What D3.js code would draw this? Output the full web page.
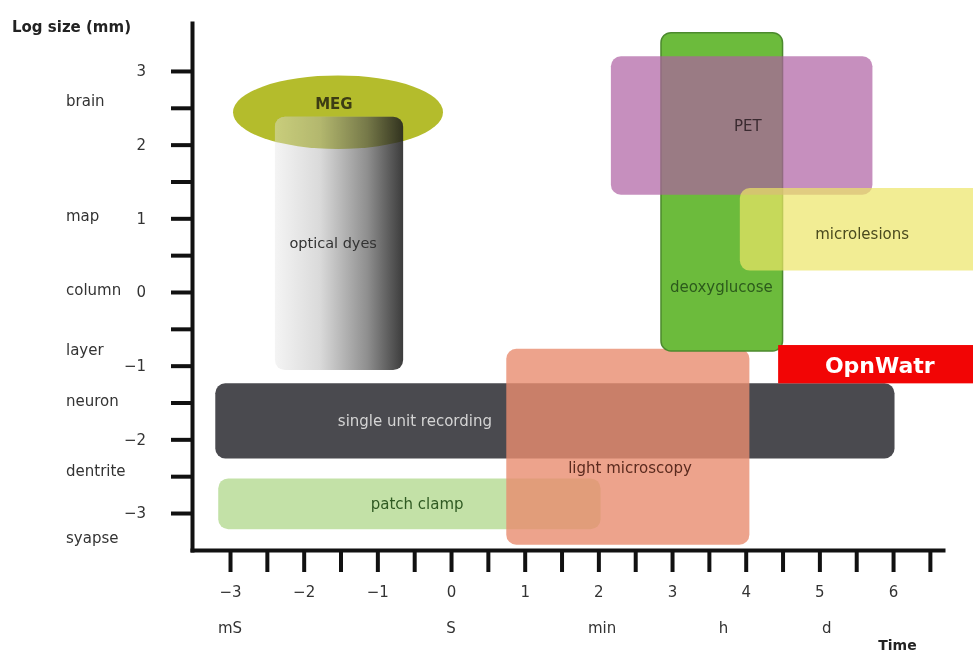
<!DOCTYPE html>
<html>
<head>
<meta charset="utf-8">
<script src="https://cdn.jsdelivr.net/npm/d3@7"></script>
<style>
  body { margin: 0; background: #fff; }
  text { font-family: 'DejaVu Sans', sans-serif; }
</style>
</head>
<body>
<svg id="chart"></svg>
<script>
// Axis ticks (log units) and labels
const xTickValues = [-3, -2.5, -2, -1.5, -1, -0.5, 0, 0.5, 1, 1.5, 2, 2.5, 3, 3.5, 4, 4.5, 5, 5.5, 6, 6.5]
const yTickValues = [-3, -2.5, -2, -1.5, -1, -0.5, 0, 0.5, 1, 1.5, 2, 2.5, 3]
const sizeLevels = ['brain', 'map', 'column', 'layer', 'neuron', 'dentrite', 'syapse']
const sizeLevelPos = [2.6, 1.04, 0.03, -0.79, -1.47, -2.42, -3.34]
const timeUnits = ['mS', 'S', 'min', 'h', 'd']
const timeUnitPos = [-3, 0, 2.05, 3.7, 5.1]

// Techniques: time range (x0, x1) and size range (y0, y1), in log units
const techniques = ['single unit recording', 'patch clamp', 'light microscopy', 'deoxyglucose', 'PET', 'microlesions']
const techX0 = [-3.2, -3.16, 0.75, 2.85, 2.17, 3.92]
const techX1 = [6.02, 2.03, 4.05, 4.5, 5.72, 7.4]
const techY0 = [-2.26, -3.22, -3.43, -0.8, 1.32, 0.29]
const techY1 = [-1.24, -2.53, -0.77, 3.52, 3.2, 1.41]
const techLabelX = [-0.49, -0.46, 2.43, 3.67, 4.03, 5.58]
const techLabelY = [-1.75, -2.88, -2.39, 0.07, 2.25, 0.79]
const techColors = ['#4a4a4f', '#c3e1a7', '#e98c6f', '#6cbb3c', '#ae60a2', '#ece666']
const techOpacity = [1, 1, 0.8, 1, 0.7, 0.7]
const techTextColors = ['#d4d4d4', '#2f5a22', '#5a2a1e', '#2c5a1c', '#3a2a30', '#4a4a1e']

// optical dyes and MEG
const dyesRange = { x0: -2.39, x1: -0.65, y0: -1.06, y1: 2.38, labelX: -1.6, labelY: 0.67 }
const megRange = { cx: -1.534, cy: 2.44, rx: 1.425, ry: 0.5, labelX: -1.59, labelY: 2.55 }

// watermark box
const badge = { x0: 4.44, x1: 7.4, y0: -1.24, y1: -0.72, labelX: 5.82, labelY: -0.99 }

const W = 973
const H = 657

const svg = d3.select('#chart')
  .attr('width', W)
  .attr('height', H)

const x = d3.scaleLinear().domain([-3.516, 6.678]).range([192, 943])
const y = d3.scaleLinear().domain([-3.502, 3.651]).range([550, 23])

const defs = svg.append('defs')
const grad = defs.append('linearGradient').attr('id', 'dyesGrad')
grad.selectAll('stop')
  .data([['0%', '#f4f4f4'], ['35%', '#dadada'], ['72%', '#8f8f8f'], ['100%', '#3c3c3c']])
  .enter().append('stop')
  .attr('offset', d => d[0])
  .attr('stop-color', d => d[1])

defs.append('clipPath').attr('id', 'dyesClip')
  .append('rect')
  .attr('x', x(dyesRange.x0)).attr('y', y(dyesRange.y1))
  .attr('width', x(dyesRange.x1) - x(dyesRange.x0))
  .attr('height', y(dyesRange.y0) - y(dyesRange.y1))
  .attr('rx', 10)

// MEG ellipse
const meg = () => svg.append('ellipse')
  .attr('cx', x(megRange.cx)).attr('cy', y(megRange.cy))
  .attr('rx', x(megRange.cx + megRange.rx) - x(megRange.cx))
  .attr('ry', y(megRange.cy - megRange.ry) - y(megRange.cy))
  .attr('fill', '#b4bc2c')
meg()

// optical dyes column
svg.append('rect')
  .attr('x', x(dyesRange.x0)).attr('y', y(dyesRange.y1))
  .attr('width', x(dyesRange.x1) - x(dyesRange.x0))
  .attr('height', y(dyesRange.y0) - y(dyesRange.y1))
  .attr('rx', 10)
  .attr('fill', 'url(#dyesGrad)')

// tint of MEG through the dyes column
meg()
  .attr('clip-path', 'url(#dyesClip)')
  .style('mix-blend-mode', 'multiply')
  .attr('opacity', 0.6)

// technique boxes
techniques.forEach((t, i) => {
  svg.append('rect')
    .attr('x', x(techX0[i]))
    .attr('y', y(techY1[i]))
    .attr('width', x(techX1[i]) - x(techX0[i]))
    .attr('height', y(techY0[i]) - y(techY1[i]))
    .attr('rx', 10)
    .attr('fill', techColors[i])
    .attr('fill-opacity', techOpacity[i])
    .attr('stroke', t === 'deoxyglucose' ? '#4c8a2e' : 'none')
    .attr('stroke-width', 1.5)
})

// watermark
svg.append('rect')
  .attr('x', x(badge.x0)).attr('y', y(badge.y1))
  .attr('width', x(badge.x1) - x(badge.x0))
  .attr('height', y(badge.y0) - y(badge.y1))
  .attr('fill', '#f20505')
svg.append('text')
  .attr('x', x(badge.labelX)).attr('y', y(badge.labelY))
  .attr('dy', '0.35em')
  .attr('text-anchor', 'middle')
  .attr('fill', '#fff')
  .style('font-size', '22px')
  .style('font-weight', 'bold')
  .text('OpnWatr')

// labels in boxes
svg.selectAll('.tech-label')
  .data(techniques)
  .enter().append('text')
  .attr('class', 'tech-label')
  .attr('x', (d, i) => x(techLabelX[i]))
  .attr('y', (d, i) => y(techLabelY[i]))
  .attr('dy', '0.35em')
  .attr('text-anchor', 'middle')
  .attr('fill', (d, i) => techTextColors[i])
  .style('font-size', '15px')
  .text(d => d)

svg.append('text')
  .attr('x', x(dyesRange.labelX)).attr('y', y(dyesRange.labelY))
  .attr('dy', '0.35em').attr('text-anchor', 'middle')
  .attr('fill', '#333').style('font-size', '14.5px')
  .text('optical dyes')

svg.append('text')
  .attr('x', x(megRange.labelX)).attr('y', y(megRange.labelY))
  .attr('dy', '0.35em').attr('text-anchor', 'middle')
  .attr('fill', '#3c3c14').style('font-size', '15px').style('font-weight', 'bold')
  .text('MEG')

// Axes
const fmt = d3.format('')
const xAxis = d3.axisBottom(x)
  .tickValues(xTickValues)
  .tickSize(22)
  .tickSizeOuter(0)
  .tickPadding(14)
  .tickFormat(d => Number.isInteger(d) ? fmt(d) : '')

const yAxis = d3.axisLeft(y)
  .tickValues(yTickValues)
  .tickSize(21)
  .tickSizeOuter(0)
  .tickPadding(25)
  .tickFormat(d => Number.isInteger(d) ? fmt(d) : '')

const gx = svg.append('g')
  .attr('transform', `translate(0, ${y(-3.502)})`)
  .call(xAxis)
const gy = svg.append('g')
  .attr('transform', `translate(${x(-3.516)}, 0)`)
  .call(yAxis)

;[gx, gy].forEach(g => {
  g.select('.domain').attr('stroke', '#111').attr('stroke-width', 4).attr('stroke-linecap', 'square')
  g.selectAll('.tick line').attr('stroke', '#111').attr('stroke-width', 4)
  g.selectAll('.tick text').attr('fill', '#333').style('font-size', '15px').style('font-family', 'DejaVu Sans, sans-serif')
})

// size level names
svg.selectAll('.size-level')
  .data(sizeLevels)
  .enter().append('text')
  .attr('class', 'size-level')
  .attr('x', 66)
  .attr('y', (d, i) => y(sizeLevelPos[i]))
  .attr('dy', '0.35em')
  .attr('fill', '#333')
  .style('font-size', '15px')
  .text(d => d)

// time unit names
svg.selectAll('.time-unit')
  .data(timeUnits)
  .enter().append('text')
  .attr('class', 'time-unit')
  .attr('x', (d, i) => x(timeUnitPos[i]))
  .attr('y', 628)
  .attr('dy', '0.35em')
  .attr('text-anchor', 'middle')
  .attr('fill', '#333')
  .style('font-size', '15px')
  .text(d => d)

// axis titles
svg.append('text')
  .attr('x', 12).attr('y', 27).attr('dy', '0.35em')
  .attr('fill', '#222')
  .style('font-size', '15px').style('font-weight', 'bold')
  .text('Log size (mm)')

svg.append('text')
  .attr('x', x(6.06)).attr('y', 645).attr('dy', '0.35em')
  .attr('text-anchor', 'middle')
  .attr('fill', '#222')
  .style('font-size', '14px').style('font-weight', 'bold')
  .text('Time')
</script>
</body>
</html>
